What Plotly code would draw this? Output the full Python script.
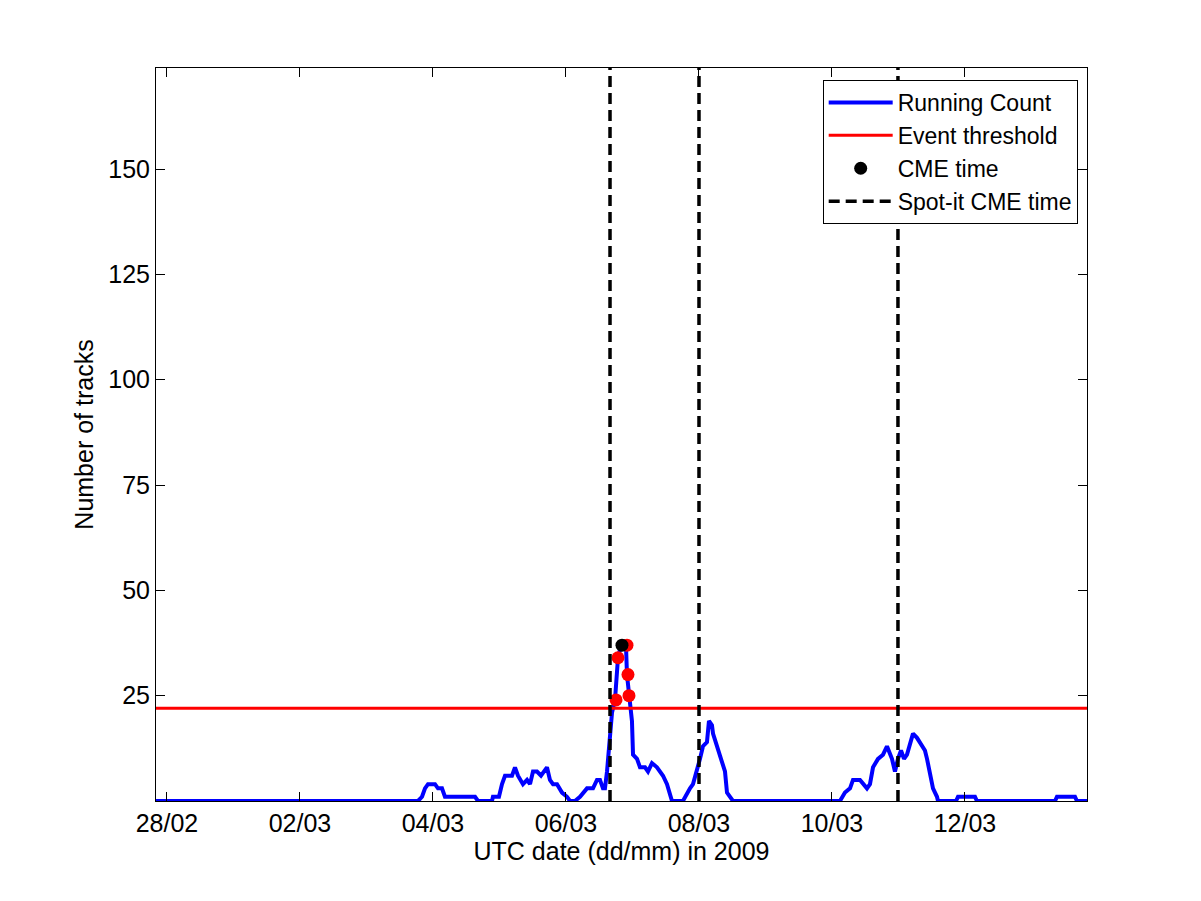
import pandas as pd
import plotly.graph_objects as go

# Running count: time (days after 2009-02-28 00:00 UTC) and number of tracks
count_days = [-0.165, 3.774, 3.835, 3.880, 3.925, 3.985, 4.030, 4.075, 4.135, 4.180,
              4.632, 4.677, 4.887, 4.902, 4.992, 5.038, 5.083, 5.188, 5.233, 5.278,
              5.308, 5.353, 5.414, 5.459, 5.504, 5.564, 5.624, 5.714, 5.759, 5.805,
              5.865, 5.940, 6.015, 6.060, 6.135, 6.211, 6.316, 6.406, 6.466, 6.511,
              6.556, 6.586, 6.617, 6.647, 6.692, 6.737, 6.767, 6.782, 6.827, 6.902,
              6.917, 6.947, 6.992, 7.008, 7.068, 7.113, 7.188, 7.233, 7.293, 7.368,
              7.414, 7.459, 7.519, 7.549, 7.594, 7.759, 7.820, 7.865, 7.910, 7.970,
              8.015, 8.060, 8.120, 8.150, 8.195, 8.211, 8.271, 8.316, 8.361, 8.391,
              8.421, 8.466, 8.511, 10.120, 10.195, 10.271, 10.316, 10.421, 10.466, 10.526,
              10.571, 10.617, 10.692, 10.767, 10.827, 10.902, 10.947, 10.992, 11.038, 11.083,
              11.128, 11.173, 11.218, 11.278, 11.353, 11.398, 11.429, 11.474, 11.519, 11.579,
              11.594, 11.865, 11.895, 12.150, 12.180, 13.353, 13.383, 13.654, 13.684, 13.835]
count_vals = [0, 0, 1, 3, 4, 4, 4, 3, 3, 1,
              1, 0, 0, 1, 1, 4, 6, 6, 8, 6,
              5, 4, 5, 4, 7, 7, 6, 8, 5, 4,
              4, 2, 1, 0, 0, 1, 3, 3, 5, 5,
              3, 3, 7, 14, 21, 24, 33, 34, 37, 37,
              30, 25, 19, 11, 10, 8, 8, 7, 9, 8,
              7, 6, 4, 2, 0, 0, 2, 3, 4, 7,
              10, 13, 14, 19, 18, 16, 13, 11, 9, 7,
              2, 1, 0, 0, 2, 3, 5, 5, 4, 3,
              4, 8, 10, 11, 13, 10, 7, 10, 12, 10,
              11, 14, 16, 15, 13, 12, 10, 7, 3, 1,
              0, 0, 1, 1, 0, 0, 1, 1, 0, 0]

# Points above threshold (red) and CME time (black)
above_days = [6.752, 6.782, 6.917, 6.932, 6.947]
above_vals = [24, 34, 37, 30, 25]
cme_days = [6.842]
cme_vals = [37]

# Spot-it CME times
spot_days = [6.662, 8.000, 10.992]

threshold = 22
tick_dates = ["2009-02-28", "2009-03-02", "2009-03-04", "2009-03-06",
              "2009-03-08", "2009-03-10", "2009-03-12"]
tick_labels = ["28/02", "02/03", "04/03", "06/03", "08/03", "10/03", "12/03"]
y_ticks = [25, 50, 75, 100, 125, 150]
x_range = ["2009-02-27 20:02", "2009-03-13 20:02"]
y_max = 174

base = pd.Timestamp("2009-02-28")
def to_time(days):
    return list(base + pd.to_timedelta(days, unit="D"))

FONT = "Liberation Sans, Arial, Helvetica, sans-serif"

fig = go.Figure()
fig.add_trace(go.Scatter(x=to_time(count_days), y=count_vals, mode="lines",
                         name="Running Count", line=dict(color="#0000ff", width=4)))
fig.add_trace(go.Scatter(x=[pd.Timestamp(x_range[0]), pd.Timestamp(x_range[1])],
                         y=[threshold, threshold], mode="lines", name="Event threshold",
                         line=dict(color="#ff0000", width=3)))
fig.add_trace(go.Scatter(x=to_time(above_days), y=above_vals, mode="markers",
                         showlegend=False, marker=dict(color="#ff0000", size=13)))
fig.add_trace(go.Scatter(x=to_time(cme_days), y=cme_vals, mode="markers", name="CME time",
                         marker=dict(color="#000000", size=13)))
sx, sy = [], []
for t in to_time(spot_days):
    sx += [t, t, None]
    sy += [0, y_max, None]
fig.add_trace(go.Scatter(x=sx, y=sy, mode="lines", name="Spot-it CME time",
                         line=dict(color="#000000", width=3.5, dash="11px,6px")))

fig.update_layout(
    width=1201, height=901,
    paper_bgcolor="white", plot_bgcolor="white",
    margin=dict(l=148, r=122, t=60, b=108),
    font=dict(family=FONT, size=25, color="black"),
    showlegend=True,
    legend=dict(x=0.990, y=0.9836, xanchor="right", yanchor="top",
                bgcolor="white", bordercolor="black", borderwidth=1,
                font=dict(size=23), itemwidth=64, tracegroupgap=0),
)
fig.update_xaxes(
    type="date", range=[pd.Timestamp(x_range[0]), pd.Timestamp(x_range[1])],
    tickvals=[pd.Timestamp(d) for d in tick_dates], ticktext=tick_labels,
    ticks="inside", ticklen=9, tickcolor="black", tickwidth=1,
    showline=True, linecolor="black", linewidth=1, mirror="ticks",
    showgrid=False, zeroline=False, ticklabelstandoff=0,
    tickfont=dict(size=25),
    title=dict(text="UTC date (dd/mm) in 2009", standoff=0, font=dict(size=25)),
)
fig.update_yaxes(
    range=[0, y_max], tickvals=y_ticks,
    ticks="inside", ticklen=9, tickcolor="black", tickwidth=1,
    showline=True, linecolor="black", linewidth=1, mirror="ticks",
    showgrid=False, zeroline=False, ticklabelstandoff=0,
    tickfont=dict(size=25),
    title=dict(text="Number of tracks", standoff=7, font=dict(size=25)),
)
fig.write_html("out.html")
